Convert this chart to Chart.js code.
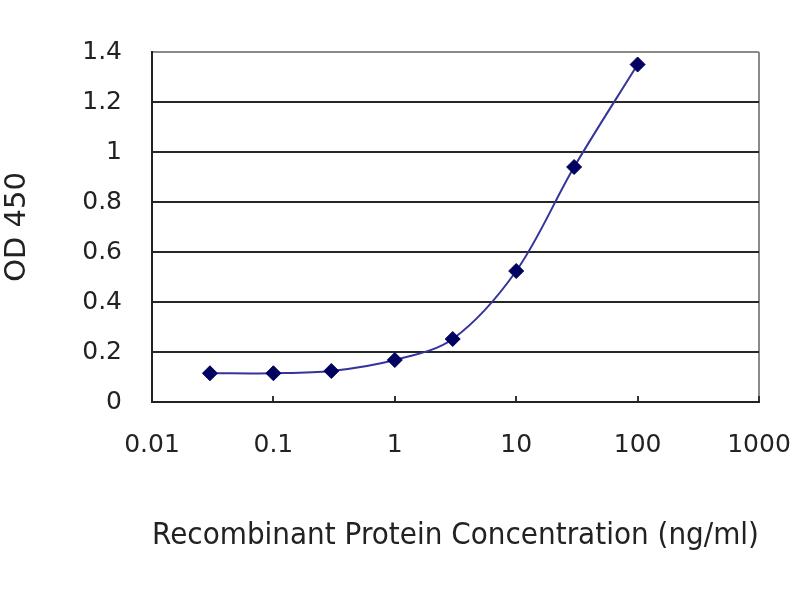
<!DOCTYPE html>
<html>
<head>
<meta charset="utf-8">
<script src="https://cdn.jsdelivr.net/npm/chart.js@4.4.1/dist/chart.umd.min.js"></script>
<style>
  html, body { margin: 0; padding: 0; background: #fff; }
</style>
</head>
<body>
<canvas id="odChart" width="800" height="600"></canvas>
<script>
// values
const concentrations = [0.03, 0.1, 0.3, 1, 3, 10, 30, 100];
const od450 = [0.115, 0.115, 0.124, 0.168, 0.252, 0.524, 0.94, 1.35];
const xTicks = [0.01, 0.1, 1, 10, 100, 1000];
const xTickLabels = ['0.01', '0.1', '1', '10', '100', '1000'];
const yTickLabels = ['0', '0.2', '0.4', '0.6', '0.8', '1', '1.2', '1.4'];

document.addEventListener('DOMContentLoaded', function() {
    const ctx = document.getElementById('odChart');
    const font = 'DejaVu Sans';

    new Chart(ctx.getContext('2d'), {
        type: 'line',
        data: {
            datasets: [{
                data: concentrations.map((c, i) => ({ x: c, y: od450[i] })),
                borderColor: '#34349a',
                borderWidth: 2,
                tension: 0.33,
                pointStyle: 'rectRot',
                pointRadius: 7.5,
                pointBackgroundColor: '#000060',
                pointBorderColor: '#000060',
                pointBorderWidth: 1
            }]
        },
        options: {
            responsive: false,
            animation: false,
            devicePixelRatio: 1,
            layout: { padding: { top: 52, right: 41, bottom: 0, left: 0 } },
            plugins: {
                legend: { display: false },
                tooltip: { enabled: false }
            },
            scales: {
                x: {
                    type: 'logarithmic',
                    min: 0.01,
                    max: 1000,
                    afterBuildTicks: function(scale) {
                        scale.ticks = xTicks.map(v => ({ value: v }));
                    },
                    afterFit: function(scale) {
                        scale.height = 198;
                        scale.paddingLeft = 0;
                        scale.paddingRight = 0;
                    },
                    ticks: {
                        padding: 34,
                        color: '#222',
                        font: { family: font, size: 25 },
                        maxRotation: 0,
                        autoSkip: false,
                        callback: function(v) {
                            const i = xTicks.indexOf(v);
                            return i >= 0 ? xTickLabels[i] : '';
                        }
                    },
                    grid: {
                        drawOnChartArea: true,
                        drawTicks: true,
                        tickLength: -6,
                        lineWidth: 2,
                        tickColor: '#333',
                        color: c => (c.tick && c.tick.value === 1000) ? '#8a8a8a' : 'rgba(0,0,0,0)'
                    },
                    border: { display: true, color: '#222', width: 2 },
                    title: {
                        display: true,
                        text: 'Recombinant Protein Concentration (ng/ml)',
                        align: 'start',
                        color: '#222',
                        font: { family: font, size: 30 },
                        padding: { top: 0, bottom: 46 }
                    }
                },
                y: {
                    min: 0,
                    max: 1.4,
                    afterFit: function(scale) {
                        scale.width = 152;
                        scale.paddingTop = 0;
                        scale.paddingBottom = 0;
                    },
                    ticks: {
                        stepSize: 0.2,
                        padding: 30,
                        color: '#222',
                        font: { family: font, size: 25 },
                        callback: function(v) {
                            return yTickLabels[Math.round(v / 0.2)];
                        }
                    },
                    grid: {
                        drawTicks: false,
                        lineWidth: 2,
                        color: c => (c.tick && c.tick.value > 1.39) ? '#8a8a8a' : '#262626'
                    },
                    border: { display: true, color: '#222', width: 2 },
                    title: {
                        display: true,
                        text: 'OD 450',
                        color: '#222',
                        font: { family: font, size: 29 },
                        padding: { top: 0, bottom: 0 }
                    }
                }
            }
        }
    });
});
</script>
</body>
</html>
